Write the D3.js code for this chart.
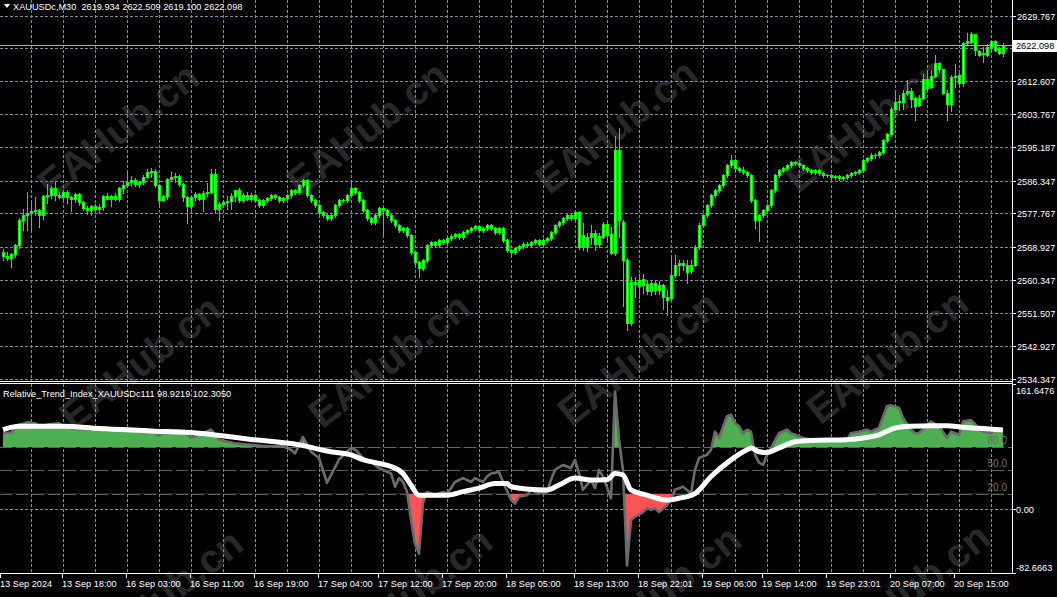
<!DOCTYPE html>
<html><head><meta charset="utf-8">
<script src="https://cdn.jsdelivr.net/npm/d3@7/dist/d3.min.js"></script>
<style>
html,body{margin:0;padding:0;background:#000;overflow:hidden;}
svg{display:block;}
text{font-family:"Liberation Sans",Arial,sans-serif;font-size:9.2px;white-space:pre;}
</style></head><body>
<svg id="chart" width="1057" height="597"></svg>
<script>
// ---------------- DATA ----------------
const symbolTitle = "XAUUSDc,M30";
const headerOHLC = ["2619.934", "2622.509", "2619.100", "2622.098"];
const indicatorTitle = "Relative_Trend_Index_XAUUSDc111";
const indicatorHeader = ["98.9219", "102.3050"];
const lastPrice = 2622.098;

const priceTicks = [2629.767, 2621.187, 2612.607, 2603.767, 2595.187, 2586.347, 2577.767, 2568.927, 2560.347, 2551.507, 2542.927, 2534.347];
const hiddenPriceTick = 2621.187;
const indTicks = [161.6476, 0.00, -82.6663];
const indTickLabels = ["161.6476", "0.00", "-82.6663"];
const indLevels = [80, 50, 20];
const indLevelLabels = ["80.0", "50.0", "20.0"];

const timeLabels = ["13 Sep 2024", "13 Sep 18:00", "16 Sep 03:00", "16 Sep 11:00", "16 Sep 19:00", "17 Sep 04:00", "17 Sep 12:00", "17 Sep 20:00", "18 Sep 05:00", "18 Sep 13:00", "18 Sep 22:01", "19 Sep 06:00", "19 Sep 14:00", "19 Sep 23:01", "20 Sep 07:00", "20 Sep 15:00"];
const timeLabelBars = [0, 15, 31, 47, 63, 79, 94, 110, 126, 143, 159, 175, 190, 206, 222, 238];

const openP = [
2567.6,2566.5,2565.9,2567.2,2569.4,2576.0,2577.3,2577.9,2578.3,2578.6,
2577.3,2582.3,2582.7,2584.5,2582.5,2582.0,2583.3,2582.0,2581.4,2582.8,
2580.8,2579.1,2578.7,2579.6,2579.0,2579.4,2582.3,2581.4,2582.3,2581.6,
2584.4,2585.3,2586.0,2586.5,2585.6,2586.0,2587.3,2588.6,2588.9,2585.3,
2581.2,2582.3,2586.9,2587.3,2587.5,2585.4,2582.0,2579.8,2582.0,2582.9,
2581.5,2583.2,2583.5,2588.2,2579.0,2580.2,2580.8,2581.0,2582.3,2583.8,
2581.2,2582.5,2581.4,2582.5,2581.2,2579.9,2581.2,2581.7,2582.5,2582.0,
2581.2,2581.7,2582.5,2583.8,2583.3,2585.2,2586.5,2582.5,2581.2,2579.9,
2578.1,2577.3,2576.5,2577.3,2579.9,2581.2,2581.2,2582.5,2584.4,2583.3,
2581.2,2578.6,2576.5,2575.4,2577.3,2579.1,2578.6,2577.3,2576.0,2574.6,
2573.3,2573.9,2572.0,2567.5,2564.9,2563.3,2565.4,2569.4,2570.2,2569.4,
2570.7,2570.2,2571.2,2571.8,2572.3,2571.5,2572.8,2573.3,2573.9,2574.4,
2573.3,2573.9,2574.6,2573.9,2572.8,2573.9,2570.7,2568.1,2567.5,2568.6,
2569.1,2569.7,2569.4,2570.2,2570.7,2569.7,2570.7,2571.2,2572.8,2574.6,
2575.4,2576.5,2577.3,2576.5,2578.1,2568.9,2571.6,2571.6,2572.6,2569.8,
2571.6,2574.9,2572.3,2567.4,2594.4,2575.5,2565.6,2549.0,2559.7,2558.7,
2560.4,2559.3,2557.4,2559.5,2557.6,2558.9,2555.8,2555.4,2561.5,2564.1,
2564.7,2564.1,2562.6,2564.1,2568.9,2574.6,2577.3,2579.9,2582.5,2583.8,
2585.2,2587.8,2590.4,2591.7,2589.6,2589.1,2588.6,2587.8,2581.2,2576.0,
2577.3,2578.6,2579.9,2583.8,2587.8,2589.1,2589.6,2590.4,2591.2,2590.9,
2590.4,2589.6,2589.1,2588.6,2589.1,2588.3,2587.8,2587.8,2587.3,2587.5,
2587.0,2587.3,2587.8,2588.3,2588.6,2589.1,2591.7,2592.3,2593.1,2593.1,
2593.8,2597.0,2598.5,2605.3,2607.1,2607.1,2609.3,2609.9,2606.0,2606.2,
2608.2,2613.2,2611.0,2613.8,2617.3,2615.6,2609.4,2606.6,2613.5,2614.1,
2611.9,2622.6,2622.8,2624.9,2620.5,2619.6,2619.3,2621.5,2623.1,2621.1,2619.934];

const highP = [
2568.5,2567.6,2567.3,2569.8,2576.5,2579.0,2583.4,2580.8,2582.0,2579.0,
2582.7,2585.6,2585.0,2586.3,2583.4,2583.9,2583.9,2582.3,2583.1,2583.1,
2581.0,2579.6,2580.0,2580.3,2580.3,2582.5,2583.1,2582.5,2583.1,2584.7,
2586.2,2589.1,2587.6,2587.1,2586.2,2587.8,2589.5,2589.8,2589.3,2585.6,
2582.5,2587.1,2588.6,2588.3,2587.8,2585.7,2582.3,2582.3,2583.4,2583.2,
2583.7,2585.7,2589.5,2589.5,2580.7,2581.2,2582.3,2583.1,2584.0,2584.4,
2583.2,2583.4,2583.0,2582.9,2581.6,2581.6,2582.1,2582.9,2582.9,2582.4,
2582.1,2582.9,2584.2,2584.2,2585.6,2586.9,2586.9,2582.9,2581.6,2580.3,
2578.5,2577.7,2577.7,2580.3,2581.6,2581.6,2582.9,2586.0,2584.8,2583.7,
2581.6,2579.0,2576.9,2577.7,2579.5,2579.5,2579.0,2577.7,2576.4,2575.0,
2574.3,2574.3,2572.4,2567.9,2565.3,2565.8,2569.8,2570.6,2570.6,2571.1,
2571.1,2571.6,2572.2,2572.7,2572.7,2573.2,2573.7,2574.3,2574.8,2574.8,
2574.3,2575.0,2575.0,2574.3,2574.3,2574.3,2571.1,2568.5,2569.0,2569.5,
2570.1,2570.1,2570.6,2571.1,2571.1,2571.1,2571.6,2573.2,2575.0,2575.8,
2576.9,2577.7,2577.7,2578.5,2578.3,2575.1,2572.5,2574.6,2573.3,2572.5,
2575.5,2575.5,2574.2,2598.0,2600.1,2575.9,2566.0,2561.0,2561.0,2561.9,
2561.8,2559.9,2559.9,2560.2,2560.0,2559.3,2557.6,2566.8,2566.8,2565.4,
2565.4,2565.4,2565.4,2569.5,2575.2,2577.7,2580.3,2582.9,2584.2,2585.6,
2588.2,2590.8,2593.0,2592.1,2590.0,2590.0,2589.0,2588.2,2581.6,2577.7,
2579.0,2580.3,2584.2,2588.2,2589.5,2590.0,2590.8,2591.6,2591.6,2591.3,
2590.8,2590.0,2589.5,2589.5,2589.5,2588.7,2588.2,2588.2,2587.9,2587.9,
2587.7,2588.2,2588.7,2589.0,2589.5,2592.1,2592.7,2593.5,2593.5,2594.2,
2597.4,2599.0,2605.7,2609.7,2608.8,2610.1,2612.7,2610.6,2608.4,2608.8,
2614.5,2615.4,2615.4,2619.3,2617.6,2615.8,2610.1,2614.1,2617.1,2614.6,
2622.8,2625.2,2625.5,2625.0,2620.8,2621.5,2622.2,2623.3,2623.3,2621.5,2622.509];

const lowP = [
2565.4,2565.4,2563.7,2566.4,2568.7,2573.3,2573.3,2573.3,2577.4,2574.2,
2576.3,2580.4,2581.8,2581.2,2581.8,2581.2,2580.4,2578.4,2580.7,2579.9,
2578.6,2577.6,2577.3,2578.6,2577.9,2578.6,2581.4,2579.6,2581.2,2581.0,
2583.2,2585.0,2585.0,2585.0,2584.8,2585.4,2587.0,2587.3,2584.6,2579.4,
2580.9,2581.5,2586.3,2586.0,2585.0,2581.0,2575.3,2578.1,2581.2,2581.2,
2578.4,2582.3,2583.2,2578.1,2575.9,2579.3,2578.8,2579.0,2581.0,2580.7,
2580.7,2581.2,2581.0,2580.8,2579.5,2579.5,2580.8,2581.3,2581.6,2580.8,
2580.8,2581.3,2582.1,2582.9,2582.9,2584.8,2582.1,2580.8,2579.5,2577.7,
2576.9,2576.1,2576.1,2576.9,2579.5,2580.8,2580.8,2582.1,2582.9,2580.8,
2578.2,2576.1,2575.0,2575.0,2576.9,2572.0,2576.9,2575.6,2574.2,2572.9,
2572.9,2571.6,2567.1,2564.5,2561.0,2562.9,2565.0,2569.0,2569.0,2569.0,
2569.8,2569.8,2570.8,2571.4,2571.1,2571.1,2572.4,2572.9,2573.5,2572.9,
2572.9,2573.5,2573.5,2572.4,2572.4,2570.3,2567.7,2566.5,2567.1,2568.2,
2568.7,2569.0,2569.0,2569.8,2569.3,2569.3,2570.3,2570.8,2572.4,2574.2,
2575.0,2576.1,2576.1,2576.1,2568.5,2568.1,2567.9,2569.8,2568.1,2569.0,
2571.4,2570.7,2567.2,2566.9,2571.6,2553.4,2547.0,2548.5,2555.8,2555.4,
2556.7,2556.5,2556.3,2556.5,2556.6,2552.7,2551.0,2554.9,2561.0,2561.5,
2562.8,2559.5,2562.0,2563.8,2568.5,2574.2,2576.9,2579.5,2582.1,2583.4,
2584.8,2587.4,2590.0,2589.2,2588.7,2588.2,2587.4,2580.8,2574.0,2570.5,
2576.9,2578.2,2579.5,2583.4,2587.4,2588.7,2589.2,2590.0,2590.5,2590.0,
2589.2,2588.7,2588.2,2588.2,2587.9,2587.4,2587.4,2586.9,2586.9,2586.6,
2586.6,2586.9,2587.4,2587.9,2588.2,2588.7,2591.3,2591.9,2592.3,2592.7,
2593.4,2596.6,2598.1,2604.4,2604.9,2605.3,2608.8,2605.7,2602.4,2605.9,
2607.9,2610.1,2610.6,2613.5,2615.0,2609.1,2602.4,2604.7,2611.0,2611.4,
2611.2,2622.2,2622.6,2619.3,2619.1,2617.6,2619.1,2620.5,2620.5,2619.6,2619.100];

const closeP = [
2566.5,2565.9,2567.2,2569.4,2576.0,2577.3,2577.9,2578.3,2578.6,2577.3,
2582.3,2582.7,2584.5,2582.5,2582.0,2583.3,2582.0,2581.4,2582.8,2580.8,
2579.1,2578.7,2579.6,2579.0,2579.4,2582.3,2581.4,2582.3,2581.6,2584.4,
2585.3,2586.0,2586.5,2585.6,2586.0,2587.3,2588.6,2588.9,2585.3,2581.2,
2582.3,2586.9,2587.3,2587.5,2585.4,2582.0,2579.8,2582.0,2582.9,2581.5,
2583.2,2583.5,2588.2,2579.0,2580.2,2580.8,2581.0,2582.3,2583.8,2581.2,
2582.5,2581.4,2582.5,2581.2,2579.9,2581.2,2581.7,2582.5,2582.0,2581.2,
2581.7,2582.5,2583.8,2583.3,2585.2,2586.5,2582.5,2581.2,2579.9,2578.1,
2577.3,2576.5,2577.3,2579.9,2581.2,2581.2,2582.5,2584.4,2583.3,2581.2,
2578.6,2576.5,2575.4,2577.3,2579.1,2578.6,2577.3,2576.0,2574.6,2573.3,
2573.9,2572.0,2567.5,2564.9,2563.3,2565.4,2569.4,2570.2,2569.4,2570.7,
2570.2,2571.2,2571.8,2572.3,2571.5,2572.8,2573.3,2573.9,2574.4,2573.3,
2573.9,2574.6,2573.9,2572.8,2573.9,2570.7,2568.1,2567.5,2568.6,2569.1,
2569.7,2569.4,2570.2,2570.7,2569.7,2570.7,2571.2,2572.8,2574.6,2575.4,
2576.5,2577.3,2576.5,2578.1,2568.9,2572.0,2568.9,2572.5,2569.8,2571.8,
2574.9,2572.0,2567.4,2594.4,2576.0,2565.6,2549.0,2559.7,2559.1,2560.2,
2558.9,2557.4,2559.5,2557.7,2558.9,2555.8,2555.0,2561.5,2564.1,2564.7,
2564.1,2562.4,2564.1,2568.9,2574.6,2577.3,2579.9,2582.5,2583.8,2585.2,
2587.8,2590.4,2591.7,2589.6,2589.1,2588.6,2587.8,2581.2,2576.0,2577.3,
2578.6,2579.9,2583.8,2587.8,2589.1,2589.6,2590.4,2591.2,2590.9,2590.4,
2589.6,2589.1,2588.6,2589.1,2588.3,2587.8,2587.8,2587.3,2587.5,2587.0,
2587.3,2587.8,2588.3,2588.6,2589.1,2591.7,2592.3,2593.1,2593.1,2593.8,
2597.0,2598.5,2605.3,2607.1,2607.3,2609.3,2609.9,2607.7,2608.1,2608.2,
2613.2,2610.8,2613.8,2617.3,2615.6,2609.4,2606.6,2613.5,2613.8,2611.9,
2622.6,2623.1,2624.9,2620.8,2619.3,2619.8,2621.5,2623.1,2620.8,2619.8,2622.098];

// Relative Trend Index (grey line), read at bar indices
const rtiBars = [0,2,4,6,8,9,12,14,15,18,24,28,31,34,37,39,41,45,47,49,52,54,58,62,66,70,72,73,75,77,79,81,84,87,88,90,92,94,97,98,99,100,101,102,103,104,105,106,107,108,110,111,112,113,115,117,118,120,121,122,124,125,127,128,129,131,132,133,135,136,137,138,140,142,143,144,145,147,148,149,150,152,153,154,155,156,157,158,160,161,162,163,164,166,167,168,169,170,172,173,174,176,177,178,179,181,182,183,184,185,186,187,188,189,190,191,192,194,196,197,198,200,202,207,211,212,214,216,217,219,221,222,224,225,227,228,229,231,232,234,236,237,239,240,242,243,244,245,247,248,250];
const rtiVals = [98,99,109,112,111,107,110,111,107,103.5,102.6,103,104,103,102,95,102,101,92,96,102.6,89.6,85,83,81,81,76.6,72,93,74,66,34,64,79,77,66,61,53,46,29,40,35,22.5,-14,-44.5,-57.5,8,22,20,18,22,20,27,35,40,35,40,35,42,46,48,35,12,7,16,18,25,22,20,22,37.7,50.6,57,53,63.6,46,25,37.7,27,50.6,42,14,152,90,50,-73,-14,-10,-4,1,-1,1,-4,5,12,25,27,29,20,50.6,66,70,76.6,100,92,120,122,111,107,98,102.6,100,70,60,57,70,79,98,102.6,98,96,92,89.6,90,89.6,98,100,102.6,100,105,133,134,131,117.7,102.6,98,98,109,113,107,91.8,100,96,113,115,110,102.6,100,98,102.6,98.92];

// Signal line (white), read at bar indices
const sigBars = [0,4,15,24,37,49,62,74,82,87,90,94,97,100,102,104,111,115,119,123,126,127,131,136,139,143,147,151,153,155,157,161,166,169,173,177,182,186,187,189,191,194,198,202,211,215,219,223,227,232,236,240,244,250];
const sigVals = [102.6,107,107,104,101,98,90,83,74,70,64,59,55,46,31,18,18,22.5,27,33,33,29,26,24.7,31,40,37.7,38,46,44,24.7,18,11.7,14,20,42,63.6,76.6,79,74,73,79,87,88.7,89.6,91.8,96,104.8,107,107.8,107.8,105.6,104.5,102.305];

// ---------------- CHART ----------------
const W = 1057, H = 597;
const PR = 1012;            // right edge of plot area
const MT = 0, MB = 381;     // main window
const IT = 384, IB = 573;   // indicator window

const svg = d3.select('#chart');
svg.append('rect').attr('width', W).attr('height', H).attr('fill', '#000');
const defs = svg.append('defs');
defs.append('clipPath').attr('id', 'clipMain').append('rect').attr('x', 0).attr('y', MT).attr('width', PR).attr('height', MB - MT);
defs.append('clipPath').attr('id', 'clipInd').append('rect').attr('x', 0).attr('y', IT).attr('width', PR).attr('height', IB - IT);

const n = closeP.length;
const x = d3.scaleLinear().domain([0, n - 1]).range([3, 1003]);
const y = d3.scaleLinear().domain([2534.347, 2629.767]).range([378.5, 15.5]);
const yi = d3.scaleLinear().domain([-82.6663, 161.6476]).range([IB, IT]);

defs.append('clipPath').attr('id', 'clipAbove').append('rect').attr('x', 0).attr('y', IT).attr('width', PR).attr('height', yi(indLevels[0]) - IT);
defs.append('clipPath').attr('id', 'clipBelow').append('rect').attr('x', 0).attr('y', yi(indLevels[2])).attr('width', PR).attr('height', IB - yi(indLevels[2]));

// watermark
const wm = svg.append('g').attr('fill', '#282828');
const wmRows = [[118, 130], [140, 362], [162, 596]];
wmRows.forEach(([x0, y0]) => {
  d3.range(4).forEach(k => {
    wm.append('text')
      .attr('transform', `translate(${x0 + 249 * k},${y0 - 2 * k}) rotate(-38)`)
      .attr('text-anchor', 'middle').attr('dy', '0.35em')
      .style('font-size', '40px').style('font-weight', 'bold')
      .text('EAHub.cn');
  });
});

// grid
const grid = svg.append('g').attr('stroke', '#778899').attr('stroke-width', 1)
  .attr('stroke-dasharray', '3,2').attr('shape-rendering', 'crispEdges');
d3.range(1, 32).forEach(k => {
  const gx = 32 * k - 0.5;
  grid.append('line').attr('x1', gx).attr('x2', gx).attr('y1', MT).attr('y2', MB);
  grid.append('line').attr('x1', gx).attr('x2', gx).attr('y1', IT).attr('y2', IB);
});
priceTicks.forEach(p => {
  const gy = Math.round(y(p)) + 0.5;
  grid.append('line').attr('x1', 0).attr('x2', PR).attr('y1', gy).attr('y2', gy);
});
grid.append('line').attr('x1', 0).attr('x2', PR).attr('y1', Math.round(yi(0)) + 0.5).attr('y2', Math.round(yi(0)) + 0.5);

// current price line
const lpY = Math.round(y(lastPrice)) + 0.5;
svg.append('line').attr('x1', 0).attr('x2', PR).attr('y1', lpY).attr('y2', lpY)
  .attr('stroke', '#b4b4b4').attr('shape-rendering', 'crispEdges');

// candles
const cg = svg.append('g').attr('clip-path', 'url(#clipMain)').attr('shape-rendering', 'crispEdges');
const idx = d3.range(n);
cg.selectAll('line.wick').data(idx).join('line').attr('class', 'wick')
  .attr('x1', i => Math.round(x(i)) + 0.5).attr('x2', i => Math.round(x(i)) + 0.5)
  .attr('y1', i => Math.round(y(highP[i]))).attr('y2', i => Math.round(y(lowP[i])) + 1)
  .attr('stroke', '#00ff00');
cg.selectAll('rect.body').data(idx).join('rect').attr('class', 'body')
  .each(function (i) {
    const cx = Math.round(x(i));
    const t = Math.round(y(Math.max(openP[i], closeP[i])));
    const b = Math.round(y(Math.min(openP[i], closeP[i])));
    const s = d3.select(this);
    if (b - t < 2) {
      s.attr('x', cx - 1).attr('y', t).attr('width', 3).attr('height', Math.max(1, b - t + 1)).attr('fill', '#00ff00');
    } else {
      s.attr('x', cx - 0.5).attr('y', t + 0.5).attr('width', 2).attr('height', b - t)
        .attr('fill', '#ffffff').attr('stroke', '#00ff00');
    }
  });

// indicator
const ig = svg.append('g').attr('clip-path', 'url(#clipInd)');
indLevels.forEach(lv => {
  const ly = Math.round(yi(lv)) + 0.5;
  ig.append('line').attr('x1', 0).attr('x2', PR).attr('y1', ly).attr('y2', ly)
    .attr('stroke', '#5f5f5f').attr('stroke-dasharray', '12,4').attr('shape-rendering', 'crispEdges');
});
const rti = rtiBars.map((b, k) => ({ b, v: rtiVals[k] }));
const sig = sigBars.map((b, k) => ({ b, v: sigVals[k] }));
ig.append('g').attr('clip-path', 'url(#clipAbove)').append('path').datum(rti)
  .attr('d', d3.area().x(d => x(d.b)).y0(yi(indLevels[0])).y1(d => yi(d.v)))
  .attr('fill', '#4caf50');
ig.append('g').attr('clip-path', 'url(#clipBelow)').append('path').datum(rti)
  .attr('d', d3.area().x(d => x(d.b)).y0(yi(indLevels[2])).y1(d => yi(d.v)))
  .attr('fill', '#ff5252');
indLevels.forEach((lv, k) => {
  svg.append('text').attr('x', 1007).attr('y', yi(lv) - 3).attr('text-anchor', 'end')
    .attr('fill', '#6e6e6e').style('font-size', '10px').text(indLevelLabels[k]);
});
ig.append('path').datum(rti).attr('d', d3.line().x(d => x(d.b)).y(d => yi(d.v)))
  .attr('fill', 'none').attr('stroke', '#6b6b6b').attr('stroke-width', 2.6).attr('stroke-linejoin', 'round');
ig.append('path').datum(sig).attr('d', d3.line().curve(d3.curveMonotoneX).x(d => x(d.b)).y(d => yi(d.v)))
  .attr('fill', 'none').attr('stroke', '#ffffff').attr('stroke-width', 5);

// frames
const fr = svg.append('g').attr('stroke', '#ffffff').attr('shape-rendering', 'crispEdges');
fr.append('line').attr('x1', PR + 0.5).attr('x2', PR + 0.5).attr('y1', 0).attr('y2', IB + 1);
fr.append('line').attr('x1', 0).attr('x2', PR).attr('y1', MB + 0.5).attr('y2', MB + 0.5);
fr.append('line').attr('x1', 0).attr('x2', PR).attr('y1', IT - 0.5).attr('y2', IT - 0.5);
fr.append('line').attr('x1', 0).attr('x2', PR).attr('y1', IB + 0.5).attr('y2', IB + 0.5);

// price axis
const pa = svg.append('g');
priceTicks.filter(p => p !== hiddenPriceTick).forEach(p => {
  const ty = Math.round(y(p)) + 0.5;
  pa.append('line').attr('x1', PR).attr('x2', PR + 4).attr('y1', ty).attr('y2', ty).attr('stroke', '#fff').attr('shape-rendering', 'crispEdges');
  pa.append('text').attr('x', 1017).attr('y', ty + 3.3).attr('fill', '#fff').text(d3.format('.3f')(p));
});
// current price label
pa.append('rect').attr('x', PR).attr('y', lpY - 5.5).attr('width', W - PR).attr('height', 12).attr('fill', '#fff');
pa.append('text').attr('x', 1016).attr('y', lpY + 3.8).attr('fill', '#000').text(d3.format('.3f')(lastPrice));

// indicator axis
const yiLab = [394.2, Math.round(yi(0)) + 3.8, 571];
indTicks.forEach((v, k) => {
  const ty = Math.round(yi(v)) + 0.5;
  pa.append('line').attr('x1', PR).attr('x2', PR + 4).attr('y1', ty).attr('y2', ty).attr('stroke', '#fff').attr('shape-rendering', 'crispEdges');
  pa.append('text').attr('x', 1016).attr('y', yiLab[k]).attr('fill', '#fff').text(indTickLabels[k]);
});

// time axis
const ta = svg.append('g');
timeLabelBars.forEach((b, k) => {
  const tx = k === 0 ? 0 : Math.round(x(b)) - 1;
  ta.append('line').attr('x1', tx + 0.5).attr('x2', tx + 0.5).attr('y1', IB + 1).attr('y2', IB + 5)
    .attr('stroke', '#fff').attr('shape-rendering', 'crispEdges');
  ta.append('text').attr('x', tx).attr('y', 586.5).attr('fill', '#fff').text(timeLabels[k]);
});

// headers
svg.append('path').attr('d', 'M4,4 L10,4 L7,8 Z').attr('fill', '#fff');
svg.append('text').attr('x', 13).attr('y', 10).attr('fill', '#fff')
  .text(symbolTitle + '  ' + headerOHLC.join(' '));
svg.append('text').attr('x', 3).attr('y', 396.5).attr('fill', '#fff')
  .text(indicatorTitle + ' ' + indicatorHeader.join(' '));
</script>
</body></html>
